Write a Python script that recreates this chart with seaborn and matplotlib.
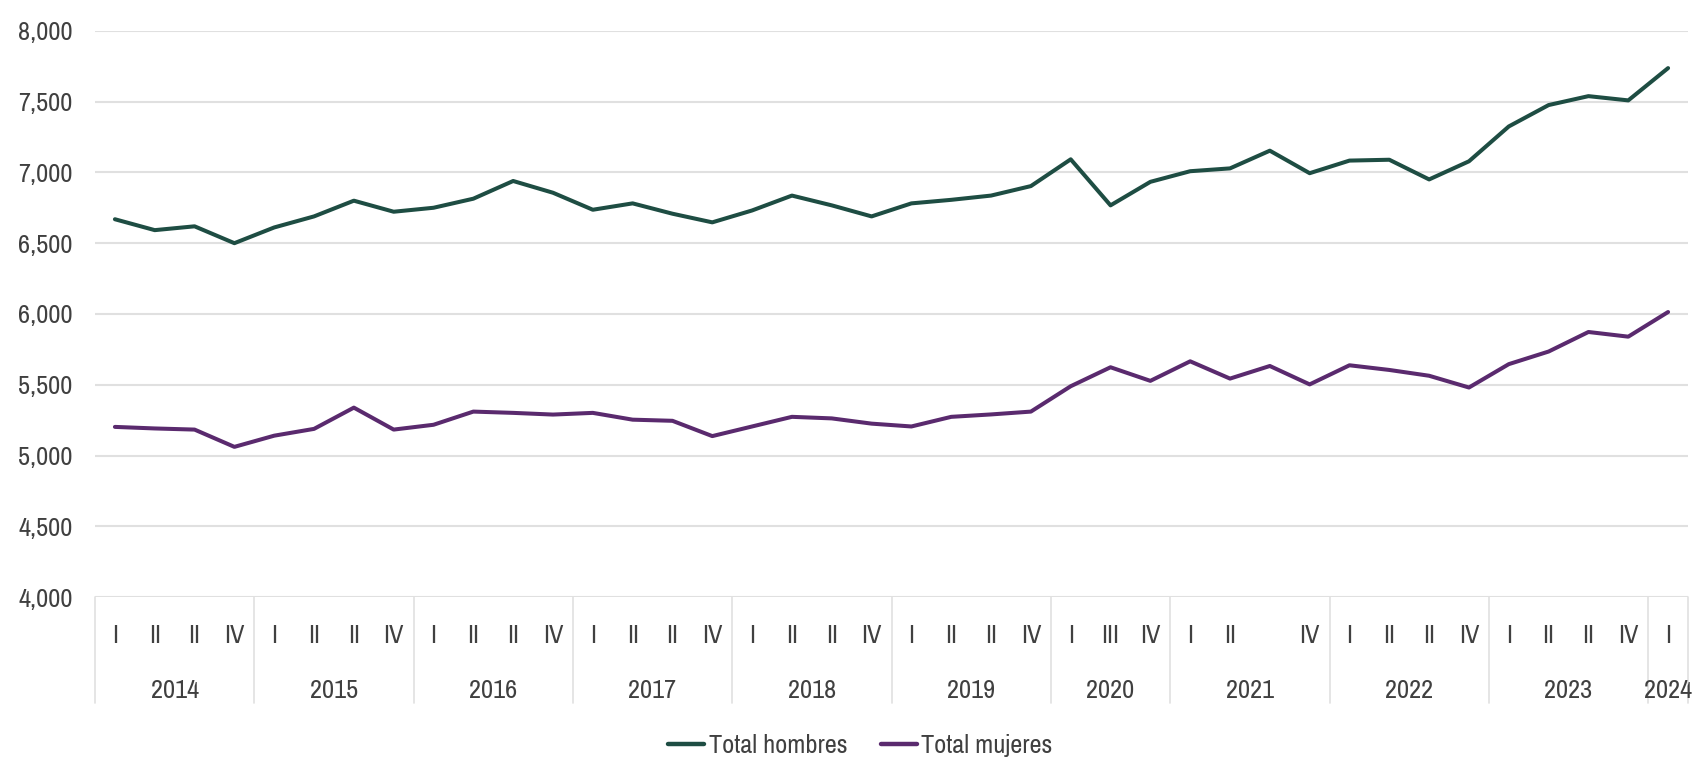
import matplotlib
matplotlib.use("Agg")
import matplotlib.pyplot as plt
import matplotlib.font_manager as fm
from matplotlib.lines import Line2D
import seaborn as sns
import pandas as pd
import numpy as np

# ---------------- data ----------------
year_labels = ["2014", "2015", "2016", "2017", "2018", "2019",
               "2020", "2021", "2022", "2023", "2024"]
quarter_labels = [
    ["I", "II", "II", "IV"],
    ["I", "II", "II", "IV"],
    ["I", "II", "II", "IV"],
    ["I", "II", "II", "IV"],
    ["I", "II", "II", "IV"],
    ["I", "II", "II", "IV"],
    ["I", "III", "IV"],
    ["I", "II", "", "IV"],
    ["I", "II", "II", "IV"],
    ["I", "II", "II", "IV"],
    ["I"],
]
hombres = [6669, 6592, 6619, 6500, 6611, 6689, 6800, 6722, 6750, 6814,
           6939, 6856, 6736, 6781, 6708, 6647, 6731, 6836, 6767, 6689,
           6781, 6806, 6836, 6903, 7092, 6767, 6933, 7008, 7028, 7153,
           6994, 7083, 7089, 6950, 7078, 7324, 7475, 7538, 7508, 7736]
mujeres = [5203, 5192, 5184, 5062, 5141, 5189, 5339, 5184, 5218, 5311,
           5302, 5290, 5302, 5254, 5246, 5138, 5206, 5274, 5263, 5226,
           5206, 5274, 5291, 5311, 5490, 5624, 5528, 5666, 5544, 5633,
           5503, 5638, 5605, 5564, 5481, 5646, 5735, 5873, 5840, 6014]
series_names = ["Total hombres", "Total mujeres"]
y_ticks = [4000, 4500, 5000, 5500, 6000, 6500, 7000, 7500, 8000]

# ---------------- font selection (narrow face if available) ----------------
sns.set_theme(style="white")
entries = fm.fontManager.ttflist


def regular(e):
    return e.style == "normal" and e.weight in (400, "normal", "regular")


chosen = None
fsize = 16.5
for e in entries:
    if e.name == "Liberation Sans Narrow" and regular(e):
        chosen, fsize = e, 20
        break
if chosen is None:
    for e in entries:
        n = e.name.lower()
        if ("narrow" in n or "condensed" in n) and "mono" not in n and "serif" not in n and regular(e):
            chosen, fsize = e, 19
            break
if chosen is None:
    for e in entries:
        st = str(e.stretch).lower()
        n = e.name.lower()
        if "condensed" in st and "mono" not in n and "serif" not in n and regular(e):
            chosen, fsize = e, 18
            break

if chosen is not None:
    fp = fm.FontProperties(fname=chosen.fname, size=fsize)
else:
    fp = fm.FontProperties(family="Liberation Sans", size=fsize)
plt.rcParams["font.family"] = ["Liberation Sans", "DejaVu Sans"]

txt_color = "#404040"
grid_color = "#e0e0e0"
colors = {"Total hombres": "#1E4D43", "Total mujeres": "#5A2A6E"}

n = len(hombres)
pos = np.arange(n)
df = pd.DataFrame({
    "pos": np.concatenate([pos, pos]),
    "valor": hombres + mujeres,
    "serie": [series_names[0]] * n + [series_names[1]] * n,
})

fig = plt.figure(figsize=(16.94, 7.59), dpi=100)
ax = fig.add_axes([95 / 1694, 1 - 597.3 / 759, (1688 - 95) / 1694, (597.3 - 30.7) / 759])

sns.lineplot(data=df, x="pos", y="valor", hue="serie", palette=colors,
             linewidth=2.9, ax=ax, legend=False)

ax.set_xlim(-0.5, n - 0.5)
ax.set_ylim(4000, 8000)
ax.set_yticks(y_ticks)
ax.set_yticklabels([f"{v:,}" for v in y_ticks], fontproperties=fp, color=txt_color)
ax.tick_params(axis="y", length=0, pad=16)
ax.set_xticks([])
ax.set_xlabel("")
ax.set_ylabel("")
for s in ax.spines.values():
    s.set_visible(False)
ax.grid(axis="y", color=grid_color, linewidth=1.5)
ax.set_axisbelow(True)

# two-level categorical axis
trans = ax.get_xaxis_transform()
h_ax = 597.3 - 30.7
q_y = -38 / h_ax
y_y = -93 / h_ax
sep_bottom = -106 / h_ax
start = 0
ax.plot([-0.5, -0.5], [0, sep_bottom], transform=trans, color=grid_color,
        linewidth=1.2, clip_on=False)
for yl, qs in zip(year_labels, quarter_labels):
    for k, q in enumerate(qs):
        ax.text(start + k, q_y, q, transform=trans, ha="center", va="center",
                fontproperties=fp, color=txt_color)
    mid = start + (len(qs) - 1) / 2
    ax.text(mid, y_y, yl, transform=trans, ha="center", va="center",
            fontproperties=fp, color=txt_color)
    end = start + len(qs) - 0.5
    ax.plot([end, end], [0, sep_bottom], transform=trans, color=grid_color,
            linewidth=1.2, clip_on=False)
    start += len(qs)

# legend
handles = [Line2D([0], [0], color=colors[s], linewidth=3.2) for s in series_names]
leg = ax.legend(handles, series_names, loc="center", ncol=2, frameon=False,
                bbox_to_anchor=(0.508, 0.018), bbox_transform=fig.transFigure,
                handlelength=1.36, handletextpad=0.18, columnspacing=1.25,
                prop=fp)
for t in leg.get_texts():
    t.set_color(txt_color)

fig.savefig("out.png", dpi=100, facecolor="white")
